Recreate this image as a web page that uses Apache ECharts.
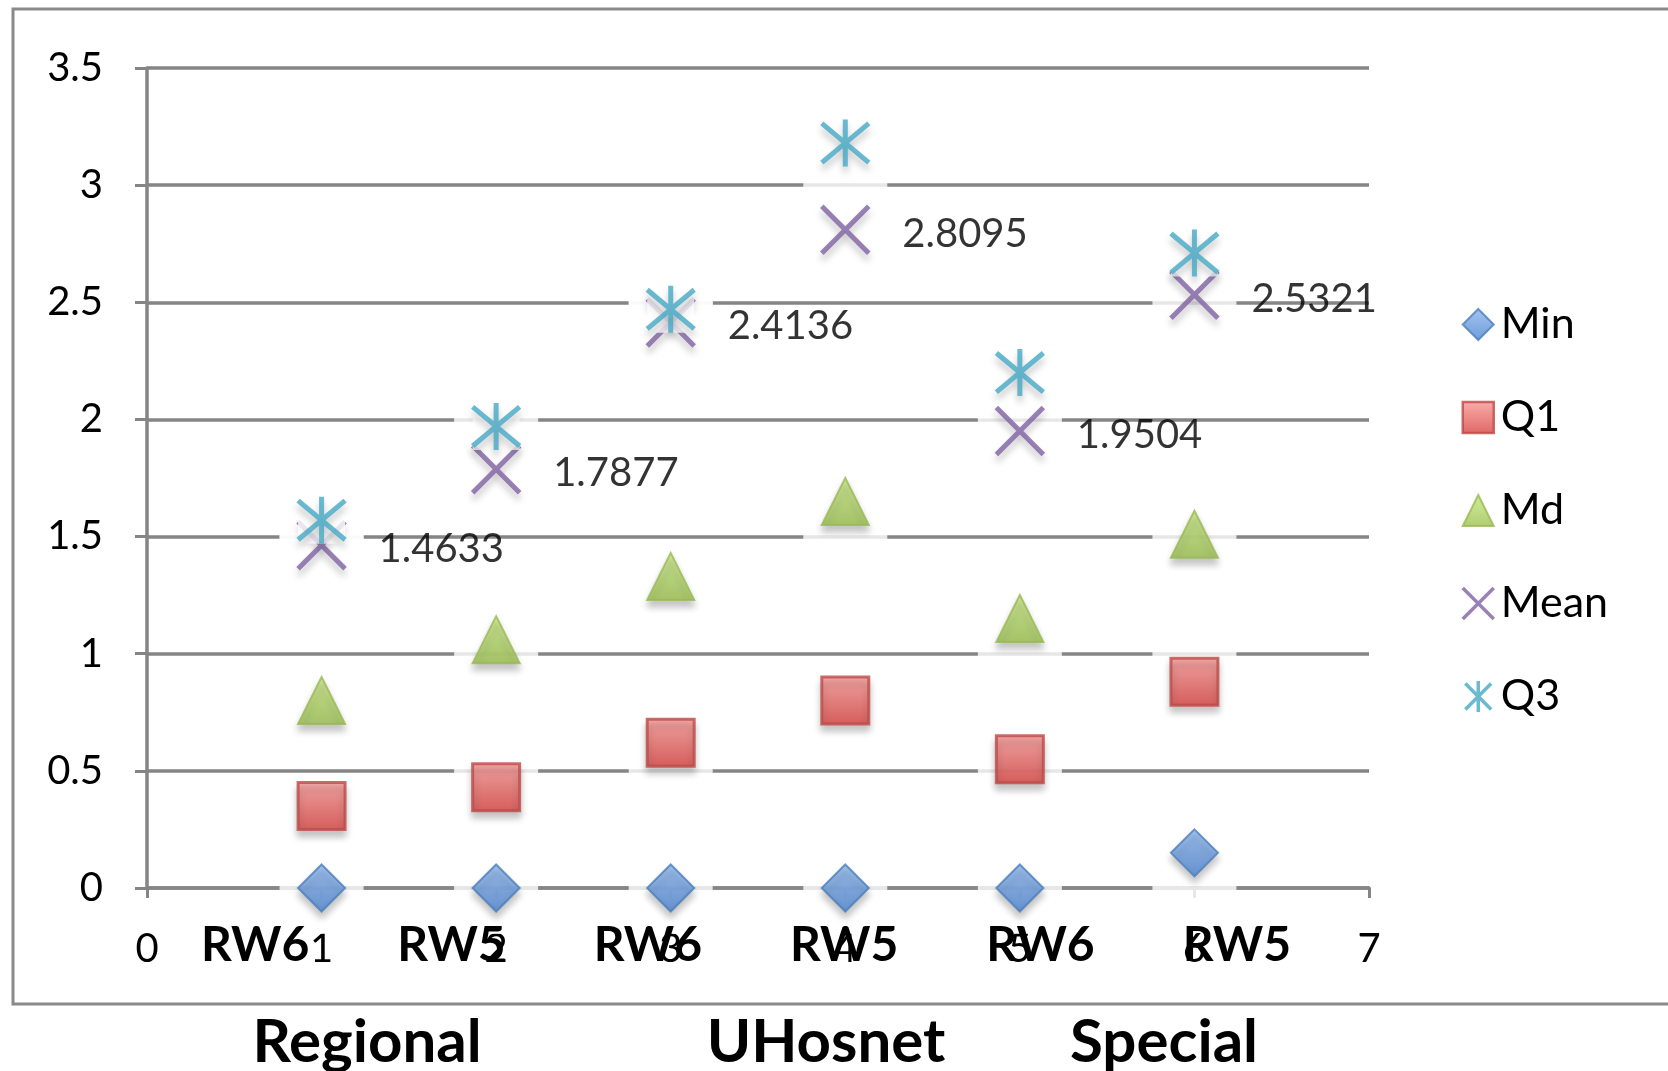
<!DOCTYPE html>
<html>
<head>
<meta charset="utf-8">
<script src="https://cdn.jsdelivr.net/npm/echarts@6/dist/echarts.min.js"></script>
<style>
html,body{margin:0;padding:0;background:#fff;}
#chart{width:1668px;height:1071px;}
</style>
</head>
<body>
<div id="chart"></div>
<script>
// ---- data ----
const xPositions = [1, 2, 3, 4, 5, 6];
const categories = ['RW6', 'RW5', 'RW6', 'RW5', 'RW6', 'RW5'];
const groupLabels = ['Regional', 'UHosnet', 'Special'];
const minVals  = [0, 0, 0, 0, 0, 0.15];
const q1Vals   = [0.35, 0.43, 0.62, 0.80, 0.55, 0.88];
const mdVals   = [0.80, 1.06, 1.33, 1.65, 1.15, 1.51];
const meanVals = [1.4633, 1.7877, 2.4136, 2.8095, 1.9504, 2.5321];
const q3Vals   = [1.57, 1.97, 2.47, 3.18, 2.20, 2.71];
const seriesNames = ['Min', 'Q1', 'Md', 'Mean', 'Q3'];

// ---- styling ----
const FONT = 'Lato, "Open Sans", sans-serif';
const GRID_GRAY = '#858585';
const pts = vals => xPositions.map((x, i) => [x, vals[i]]);
const grad = (a, b) => ({type: 'linear', x: 0, y: 0, x2: 0, y2: 1, colorStops: [{offset: 0, color: a}, {offset: 1, color: b}]});
const shadow = {shadowBlur: 7, shadowOffsetY: 6, shadowColor: 'rgba(0,0,0,0.28)'};
const X_PATH = 'path://M0 0L10 10M10 0L0 10';
const STAR_PATH = 'path://M0 0L10 10M10 0L0 10M5 -1L5 11';

const defs = {
  Min:  {vals: minVals,  symbol: 'diamond',  size: 47, style: Object.assign({color: grad('#8cb6ee', '#4c83d0'), borderColor: '#4a7ebb', borderWidth: 2}, shadow)},
  Q1:   {vals: q1Vals,   symbol: 'rect',     size: 47, style: Object.assign({color: grad('#f89896', '#d8423f'), borderColor: '#bd4a47', borderWidth: 3}, shadow)},
  Md:   {vals: mdVals,   symbol: 'triangle', size: 47, style: Object.assign({color: grad('#c6e780', '#9bc04f'), borderColor: '#98b954', borderWidth: 2}, shadow)},
  Mean: {vals: meanVals, symbol: X_PATH,     size: 47, style: Object.assign({color: 'rgba(0,0,0,0)', borderColor: '#7f62a3', borderWidth: 5}, shadow)},
  Q3:   {vals: q3Vals,   symbol: STAR_PATH,  size: 47, style: Object.assign({color: 'rgba(0,0,0,0)', borderColor: '#45a9c6', borderWidth: 5}, shadow)}
};

const series = [];
// white halos that interrupt the gridlines around every marker
seriesNames.forEach(n => {
  series.push({
    name: n + '_halo', type: 'scatter', xAxisIndex: 0, yAxisIndex: 0,
    data: pts(defs[n].vals), symbol: 'rect', symbolSize: [84, 78], symbolOffset: [0, 7],
    itemStyle: {color: '#ffffff'}, z: 1, silent: true, emphasis: {disabled: true}
  });
});
seriesNames.forEach(n => {
  const d = defs[n];
  if (n === 'Q3') {
    series.push({
      name: 'Q3_box', type: 'scatter', xAxisIndex: 0, yAxisIndex: 0,
      data: pts(d.vals), symbol: 'rect', symbolSize: 47,
      itemStyle: {color: '#ffffff'}, z: 2, silent: true, emphasis: {disabled: true}
    });
  }
  const s = {
    name: n, type: 'scatter', xAxisIndex: 0, yAxisIndex: 0,
    data: pts(d.vals), symbol: d.symbol, symbolSize: d.size,
    itemStyle: d.style, z: 2, emphasis: {disabled: true}
  };
  if (n === 'Mean') {
    s.label = {
      show: true, position: 'right', distance: 31, offset: [0, 4],
      color: '#000', fontFamily: FONT, fontSize: 40,
      formatter: p => String(p.value[1])
    };
  }
  series.push(s);
});

const legendIconStyle = {
  Min: {borderWidth: 2}, Q1: {borderWidth: 2.5}, Md: {borderWidth: 2},
  Mean: {borderWidth: 3.5}, Q3: {borderWidth: 3.5}
};

const option = {
  backgroundColor: '#ffffff',
  animation: false,
  textStyle: {fontFamily: FONT},
  grid: [
    {left: 147, right: 299, top: 68, bottom: 183, containLabel: false},
    {left: 157, right: 333, top: 68, bottom: 183, containLabel: false}
  ],
  xAxis: [
    {
      type: 'value', gridIndex: 0, min: 0, max: 7, interval: 1,
      axisLine: {show: true, lineStyle: {color: GRID_GRAY, width: 3.5}},
      axisTick: {show: true, length: 10, lineStyle: {color: GRID_GRAY, width: 3}},
      splitLine: {show: false},
      axisLabel: {color: '#000', fontFamily: FONT, fontSize: 40, margin: 41}
    },
    {
      type: 'category', gridIndex: 1, data: categories, position: 'bottom', z: 10,
      axisLine: {show: false}, axisTick: {show: false}, splitLine: {show: false},
      axisLabel: {color: '#000', fontFamily: FONT, fontSize: 48, fontWeight: 'bold', margin: 34, interval: 0}
    }
  ],
  yAxis: [
    {
      type: 'value', gridIndex: 0, min: 0, max: 3.5, interval: 0.5,
      axisLine: {show: true, lineStyle: {color: GRID_GRAY, width: 3.5}},
      axisTick: {show: true, length: 12, lineStyle: {color: GRID_GRAY, width: 3}},
      splitLine: {show: true, lineStyle: {color: GRID_GRAY, width: 3.5}},
      axisLabel: {color: '#000', fontFamily: FONT, fontSize: 40, margin: 44}
    },
    {type: 'value', gridIndex: 1, show: false, min: 0, max: 3.5}
  ],
  legend: {
    orient: 'vertical', left: 1456, top: 298,
    itemWidth: 31, itemHeight: 31, itemGap: 50,
    textStyle: {color: '#000', fontFamily: FONT, fontSize: 43, lineHeight: 31, padding: [0, 0, 0, 2]},
    itemStyle: {shadowBlur: 0, shadowOffsetY: 0, shadowColor: 'rgba(0,0,0,0)'},
    data: seriesNames.map(n => ({name: n, itemStyle: legendIconStyle[n]})),
    selectedMode: false
  },
  graphic: [
    {type: 'rect', silent: true, z: -10, shape: {x: 13, y: 9, width: 1720, height: 995},
     style: {fill: 'none', stroke: '#8a8a8a', lineWidth: 3}},
    {type: 'text', silent: true, x: 367, y: 1043, style: {text: groupLabels[0], fill: '#000', font: 'bold 60px ' + FONT, textAlign: 'center', textVerticalAlign: 'middle'}},
    {type: 'text', silent: true, x: 826, y: 1043, style: {text: groupLabels[1], fill: '#000', font: 'bold 60px ' + FONT, textAlign: 'center', textVerticalAlign: 'middle'}},
    {type: 'text', silent: true, x: 1164, y: 1043, style: {text: groupLabels[2], fill: '#000', font: 'bold 60px ' + FONT, textAlign: 'center', textVerticalAlign: 'middle'}}
  ],
  series: series
};

const chart = echarts.init(document.getElementById('chart'), null, {renderer: 'canvas'});
chart.setOption(option);
</script>
</body>
</html>
